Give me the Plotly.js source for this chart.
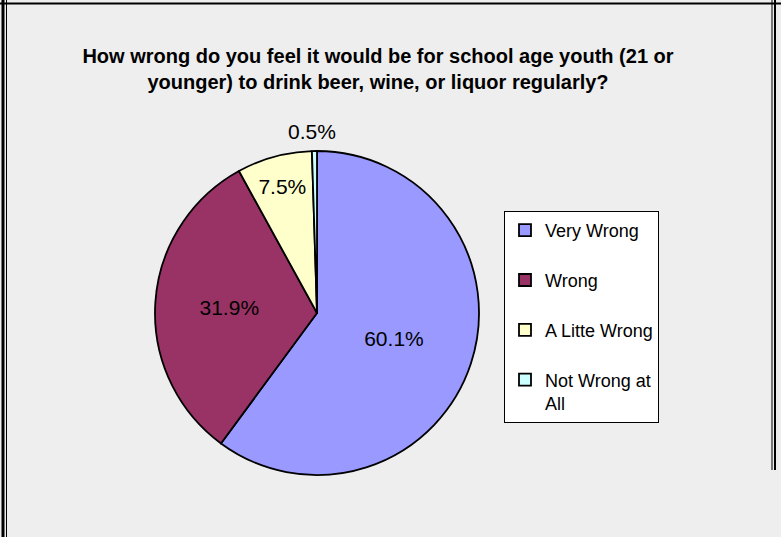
<!DOCTYPE html>
<html>
<head>
<meta charset="utf-8">
<script src="https://cdn.plot.ly/plotly-3.0.1.min.js"></script>
<style>html,body{margin:0;padding:0;background:#eeeeee;}#chart{width:781px;height:537px;}</style>
</head>
<body>
<div id="chart"></div>
<script>
var categories = ["Very Wrong", "Wrong", "A Litte Wrong", "Not Wrong at<br>All"];
var values = [60.1, 31.9, 7.5, 0.5];
var labelTexts = ["60.1%", "31.9%", "7.5%", "0.5%"];
var colors = ["#9999FF", "#993366", "#FFFFCC", "#CCFFFF"];
var textPositions = ["inside", "inside", "inside", "none"];

var FONT = "Liberation Sans, Arial, sans-serif";
var W = 781, H = 537;
var cx = 317, cy = 313, R = 162;

// pad single-line legend entries to two lines so entries are evenly spaced like the original
var legendLabels = categories.map(function (c) {
  return c.indexOf("<br>") >= 0 ? c : c + "<br>&nbsp;";
});

var trace = {
  type: "pie",
  labels: legendLabels,
  values: values,
  text: labelTexts,
  textinfo: "text",
  textposition: textPositions,
  insidetextorientation: "horizontal",
  textfont: {family: FONT, size: 21, color: "#000000"},
  insidetextfont: {family: FONT, size: 21, color: "#000000"},
  marker: {colors: colors, line: {color: "#000000", width: 1.8}},
  sort: false,
  direction: "clockwise",
  rotation: 0,
  hoverinfo: "label+percent",
  domain: {x: [(cx - R) / W, (cx + R) / W], y: [(H - cy - R) / H, (H - cy + R) / H]}
};

var layout = {
  width: W,
  height: H,
  margin: {l: 0, r: 0, t: 0, b: 0},
  paper_bgcolor: "#eeeeee",
  plot_bgcolor: "#eeeeee",
  font: {family: FONT, color: "#000000"},
  title: {
    text: "<b>How wrong do you feel it would be for school age youth (21 or<br>younger) to drink beer, wine, or liquor regularly?</b>",
    font: {family: FONT, size: 20, color: "#000000"},
    x: 378 / W, xanchor: "center", xref: "paper",
    y: 1 - 63 / H, yanchor: "top", yref: "paper"
  },
  showlegend: true,
  legend: {
    x: 504 / W, xanchor: "left",
    y: 1 - 211 / H, yanchor: "top",
    bgcolor: "#ffffff",
    bordercolor: "#000000",
    borderwidth: 1,
    font: {family: FONT, size: 18, color: "#000000"},
    traceorder: "normal",
    valign: "top"
  },
  annotations: [
    {
      text: labelTexts[3],
      xref: "paper", yref: "paper",
      x: (cx - 5) / W, y: (H - cy + R + 19) / H,
      xanchor: "center", yanchor: "middle",
      showarrow: false,
      font: {family: FONT, size: 21, color: "#000000"}
    }
  ],
  shapes: [
    {type: "line", xref: "paper", yref: "paper", x0: 3 / W, x1: 3 / W, y0: 0, y1: 1, line: {color: "#000000", width: 3}},
    {type: "line", xref: "paper", yref: "paper", x0: 6.5 / W, x1: 6.5 / W, y0: 0, y1: 1, line: {color: "#000000", width: 1}},
    {type: "line", xref: "paper", yref: "paper", x0: 0, x1: 1, y0: 1 - 3.5 / H, y1: 1 - 3.5 / H, line: {color: "#000000", width: 2}},
    {type: "line", xref: "paper", yref: "paper", x0: 772 / W, x1: 772 / W, y0: 1 - 470 / H, y1: 1, line: {color: "#000000", width: 1}},
    {type: "line", xref: "paper", yref: "paper", x0: 775 / W, x1: 775 / W, y0: 1 - 470 / H, y1: 1, line: {color: "#000000", width: 2}}
  ]
};

Plotly.newPlot("chart", [trace], layout, {displayModeBar: false, staticPlot: true});
</script>
</body>
</html>
